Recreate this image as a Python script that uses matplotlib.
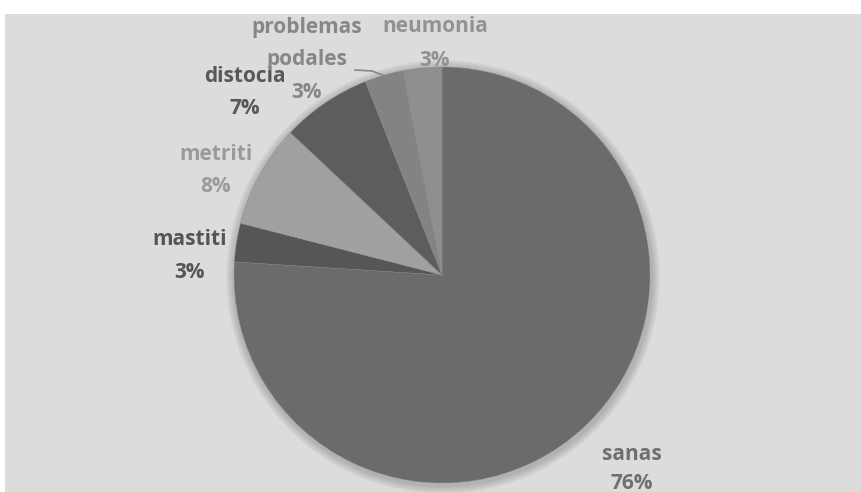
import matplotlib.pyplot as plt
from matplotlib.patches import Rectangle, Circle

categories = ['sanas', 'mastiti', 'metriti', 'distocia', 'problemas\npodales', 'neumonia']
shares = [76, 3, 8, 7, 3, 3]
slice_colors = ['#6b6b6b', '#565656', '#a0a0a0', '#5d5d5d', '#838383', '#8f8f8f']
label_colors = ['#707070', '#555555', '#9a9a9a', '#585858', '#878787', '#929292']
# label anchor (pixel x, pixel y from top) for name and percentage
label_pos = [(632, 455, 484), (190, 240, 272), (216, 155, 187),
             (245, 77, 108), (307, 27, 92), (435, 27, 60)]

W, H = 862, 492
fig = plt.figure(figsize=(W / 100, H / 100), dpi=100, facecolor='white')
ax = fig.add_axes([0, 0, 1, 1])

ax.add_patch(Rectangle((5, 0), W - 5, H - 14, facecolor='#dcdcdc', edgecolor='none', zorder=0))

cx, cy, r = 442, H - 275, 208

# soft shadow around the pie
for i in range(8):
    ax.add_patch(Circle((cx + 1, cy - 2), r + 9 - i, facecolor='#000000',
                        alpha=0.025, edgecolor='none', zorder=1))

ax.pie(shares, colors=slice_colors, startangle=90, counterclock=False,
       center=(cx, cy), radius=r, frame=True,
       wedgeprops=dict(edgecolor='#8a8a8a', linewidth=0.3, zorder=2))
ax.set_xlim(0, W)
ax.set_ylim(0, H)
ax.set_aspect('equal')
ax.axis('off')

font = ['Open Sans', 'DejaVu Sans']
fs = 15
for name, val, col, (x, yn, yp) in zip(categories, shares, label_colors, label_pos):
    if '\n' in name:
        first, second = name.split('\n')
        ax.text(x, H - yn, first, ha='center', va='center', fontsize=fs,
                fontweight='bold', color=col, family=font, zorder=5)
        ax.text(x, H - 59, second, ha='center', va='center', fontsize=fs,
                fontweight='bold', color=col, family=font, zorder=5)
    else:
        ax.text(x, H - yn, name, ha='center', va='center', fontsize=fs,
                fontweight='bold', color=col, family=font, zorder=5)
    ax.text(x, H - yp, f'{val}%', ha='center', va='center', fontsize=fs,
            fontweight='bold', color=col, family=font, zorder=5)

# leader line for problemas podales
ax.plot([355, 372, 385], [H - 70, H - 71, H - 76], color='#878787', linewidth=1.2, zorder=4)

fig.savefig('out.png', dpi=100)
